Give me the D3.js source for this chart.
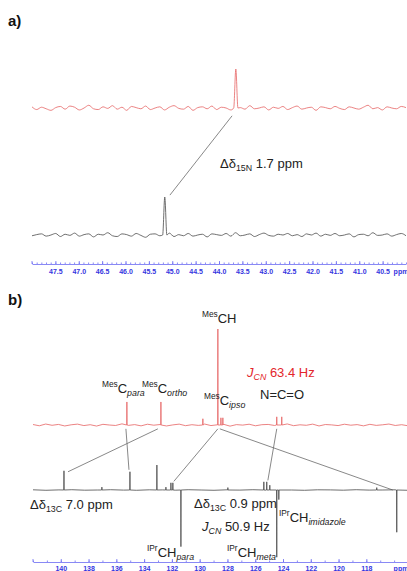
<!DOCTYPE html>
<html>
<head>
<meta charset="utf-8">
<script src="https://cdn.jsdelivr.net/npm/d3@7"></script>
<style>
  html, body { margin: 0; padding: 0; background: #fff; }
  svg { display: block; font-family: "Liberation Sans", Arial, sans-serif; }
  .axis path, .axis line { stroke: #6b6bf2; stroke-width: 0.8; }
  .axis text { fill: #3535e0; font-size: 7px; font-weight: bold; font-family: "Liberation Sans", Arial, sans-serif; }
  .trace { fill: none; stroke-width: 0.8; stroke-linejoin: round; }
  .trace--red { stroke: #e66363; }
  .trace--black { stroke: #4a4a4a; }
  .link { stroke: #6a6a6a; stroke-width: 0.8; }
  .label { font-size: 13px; }
</style>
</head>
<body>
<div class="chart"></div>
<script>
// ---------- panel a) 15N ----------
const ticksA = [47.5, 47.0, 46.5, 46.0, 45.5, 45.0, 44.5, 44.0, 43.5, 43.0, 42.5, 42.0, 41.5, 41.0, 40.5]
// peaks: [ppm, intensity]
const peaksRedA = [[43.64, 100]]
const peaksBlackA = [[45.16, 100]]
// baseline noise, evenly spread over the ppm window
const noiseRedA = [3,-4,2,-2,-6,1,4,-3,5,2,-5,0,7,-2,-4,3,-1,6,-3,2,-6,4,1,-2,5,-4,0,3,-5,2,6,-1,-3,4,-6,1,3,-2,5,-4,2,0,-5,4,1,-3,6,-2,0,3,-5,2,-1,4,-4,1,5,-3,0,2,-6,3,1,-2,4,-1,-4,3,0,-3,2,7,-2,1,-5,3,0,-2,4,1]
const noiseBlackA = [-2,1,3,-3,0,4,-4,2,-1,5,-3,1,3,-5,2,0,6,-2,-4,3,1,-3,4,-1,-6,2,3,-2,0,5,-4,1,-2,4,-3,0,2,-5,3,1,-1,4,-3,6,-2,0,3,-4,1,5,-1,-3,2,0,4,-2,1,-4,3,0,5,-3,2,-1,4,-2,0,3,-5,1,2,-2,6,-1,0,3,-3,1,4,-2]
// link: [red ppm, red intensity, black ppm, black intensity]
const linksA = [[43.72, -20, 45.05, 105]]

// ---------- panel b) 13C ----------
const ticksB = [140, 138, 136, 134, 132, 130, 128, 126, 124, 122, 120, 118]
const peaksRedB = [[135.24, 24], [132.79, 24], [129.77, 6.5], [128.69, 100], [128.47, 7.5], [128.33, 7.5], [124.45, 8.5], [124.09, 8.5]]
const peaksBlackB = [[139.77, 20], [137.04, 3], [135.02, 19], [133.08, 26], [132.43, 3], [132.07, 7.5], [131.93, 7.5], [131.35, -59], [127.97, 2.5], [125.38, 8.5], [125.17, 8.5], [124.95, 5], [124.45, -70], [124.30, -10], [117.25, 2.5], [115.81, -44]]
const noiseRedB = [0.5,-0.8,1,-0.3,0.6,-1,0.2,0.9,-0.6,0.3,-1.1,0.7,0,-0.5,1.2,-0.4,0.4,-0.9,0.8,-0.2,0.5,-1,0.1,0.9,-0.7,0.3,-0.4,1,-0.6,0.2,0.7,-1.2,0.4,-0.1,0.8,-0.8,0.3,0.6,-0.5,0,1.1,-0.7,0.2,-0.3,0.9,-1,0.5,0.1,-0.6,0.8,-0.2,0.4,-0.9,0.7,-0.4,0.2,1,-0.5,0.3,-0.8]
const noiseBlackB = [0.2,-0.3,0.1,0.3,-0.2,0,0.3,-0.1,-0.3,0.2,0.1,-0.2,0.3,0,-0.3,0.2,-0.1,0.3,-0.2,0.1,0,-0.3,0.2,0.1,-0.2,0.3,-0.1,0,0.2,-0.3]
const linksB = [
  [133.01, -4, 139.48, 19],
  [135.31, -4, 135.09, 21],
  [128.69, -4, 131.86, 9],
  [128.55, -4, 116.10, 0],
  [124.45, -4, 125.09, 10]
]

const width = 407
const height = 571

const svg = d3.select('.chart')
  .append('svg')
  .attr('width', width)
  .attr('height', height)

svg.append('rect').attr('width', width).attr('height', height).attr('fill', '#fff')

// scales
const xA = d3.scaleLinear().domain([48, 40]).range([32, 406])
const yRedA = d3.scaleLinear().domain([0, 100]).range([108, 69])
const yBlackA = d3.scaleLinear().domain([0, 100]).range([235, 197])

const xB = d3.scaleLinear().domain([142, 115]).range([33, 408])
const yRedB = d3.scaleLinear().domain([0, 100]).range([425, 329])
const yBlackB = d3.scaleLinear().domain([0, 100]).range([490, 394])

// merge noise + peaks into one sorted trace
function buildTrace(noise, peaks, domain, hw) {
  const step = (domain[1] - domain[0]) / (noise.length - 1)
  let pts = noise.map((v, i) => [domain[0] + i * step, v])
  pts = pts.filter(p => !peaks.some(pk => Math.abs(p[0] - pk[0]) <= hw + 1e-9))
  peaks.forEach(([p, h]) => {
    pts.push([p + hw, 0], [p, h], [p - hw, 0])
  })
  return pts.sort((a, b) => b[0] - a[0])
}

function drawTrace(data, x, y, cls, curve) {
  const line = d3.line()
    .x(d => x(d[0]))
    .y(d => y(d[1]))
    .curve(curve || d3.curveLinear)
  svg.append('path')
    .datum(data)
    .attr('class', 'trace ' + cls)
    .attr('d', line)
}

function drawLinks(links, x, yTop, yBottom) {
  svg.append('g')
    .selectAll('line')
    .data(links)
    .join('line')
    .attr('class', 'link')
    .attr('x1', d => x(d[0]))
    .attr('y1', d => yTop(d[1]))
    .attr('x2', d => x(d[2]))
    .attr('y2', d => yBottom(d[3]))
}

function drawAxis(x, yPos, ticks, minor, fmt, pad) {
  const g = svg.append('g')
    .attr('class', 'axis')
    .attr('transform', `translate(0, ${yPos})`)
  g.call(
    d3.axisBottom(x)
      .tickValues(minor)
      .tickSize(-1.5)
      .tickSizeOuter(0)
      .tickFormat('')
  )
  g.append('g').call(
    d3.axisBottom(x)
      .tickValues(ticks)
      .tickSize(-3)
      .tickSizeOuter(0)
      .tickPadding(pad)
      .tickFormat(fmt)
  ).select('.domain').remove()
  // left end tick
  g.append('line').attr('x1', x.range()[0]).attr('x2', x.range()[0]).attr('y1', -3).attr('y2', 0)
  g.append('text')
    .attr('x', 401)
    .attr('y', pad)
    .attr('dy', '0.71em')
    .attr('text-anchor', 'middle')
    .text('ppm')
}

// rich label: parts = [text, kind] kind: 'n' normal, 'sup', 'sub', 'i' italic, 'isub'
function richLabel(x, y, parts, size, color) {
  const t = svg.append('text')
    .attr('class', 'label')
    .attr('x', x)
    .attr('y', y)
    .style('font-size', size + 'px')
    .style('fill', color || '#222')
  let shift = 0
  parts.forEach(([txt, kind]) => {
    let target = 0
    let fs = size
    let italic = false
    if (kind === 'sup') { target = -0.45 * size; fs = size * 0.64 }
    if (kind === 'sub' || kind === 'isub') { target = 0.25 * size; fs = size * 0.68 }
    if (kind === 'i' || kind === 'isub') italic = true
    t.append('tspan')
      .attr('dy', target - shift)
      .style('font-size', fs + 'px')
      .style('font-style', italic ? 'italic' : 'normal')
      .text(txt)
    shift = target
  })
}

// ---------- panel a ----------
svg.append('text')
  .attr('x', 8).attr('y', 26)
  .style('font-size', '15px').style('font-weight', 'bold')
  .attr('fill', '#111')
  .text('a)')

drawLinks(linksA, xA, yRedA, yBlackA)
drawTrace(buildTrace(noiseRedA, peaksRedA, xA.domain(), 0.045), xA, yRedA, 'trace--red', d3.curveMonotoneX)
drawTrace(buildTrace(noiseBlackA, peaksBlackA, xA.domain(), 0.045), xA, yBlackA, 'trace--black', d3.curveMonotoneX)
drawAxis(xA, 264, ticksA, d3.range(48, 39.95, -0.1), d3.format('.1f'), 5)

richLabel(220, 168, [['Δδ', 'n'], ['15N', 'sub'], [' 1.7 ppm', 'n']], 13)

// ---------- panel b ----------
svg.append('text')
  .attr('x', 8).attr('y', 305)
  .style('font-size', '15px').style('font-weight', 'bold')
  .attr('fill', '#111')
  .text('b)')

drawLinks(linksB, xB, yRedB, yBlackB)
drawTrace(buildTrace(noiseRedB, peaksRedB, xB.domain(), 0.015), xB, yRedB, 'trace--red')
drawTrace(buildTrace(noiseBlackB, peaksBlackB, xB.domain(), 0.015), xB, yBlackB, 'trace--black')
drawAxis(xB, 562, ticksB, d3.range(142, 114.9, -1), d3.format('d'), 4)

richLabel(202, 323, [['Mes', 'sup'], ['CH', 'n']], 13)
richLabel(102, 393, [['Mes', 'sup'], ['C', 'n'], ['para', 'isub']], 13)
richLabel(142, 393, [['Mes', 'sup'], ['C', 'n'], ['ortho', 'isub']], 13)
richLabel(204, 405, [['Mes', 'sup'], ['C', 'n'], ['ipso', 'isub']], 13)
richLabel(247, 377, [['J', 'i'], ['CN', 'isub'], [' 63.4 Hz', 'n']], 13, '#e3262c')
richLabel(260, 399, [['N=C=O', 'n']], 13)

richLabel(30, 509, [['Δδ', 'n'], ['13C', 'sub'], [' 7.0 ppm', 'n']], 13)
richLabel(194, 508, [['Δδ', 'n'], ['13C', 'sub'], [' 0.9 ppm', 'n']], 13)
richLabel(202, 531, [['J', 'i'], ['CN', 'isub'], [' 50.9 Hz', 'n']], 13)
richLabel(279, 522, [['IPr', 'sup'], ['CH', 'n'], ['imidazole', 'isub']], 13)
richLabel(147, 557, [['IPr', 'sup'], ['CH', 'n'], ['para', 'isub']], 13)
richLabel(227, 557, [['IPr', 'sup'], ['CH', 'n'], ['meta', 'isub']], 13)
</script>
</body>
</html>
